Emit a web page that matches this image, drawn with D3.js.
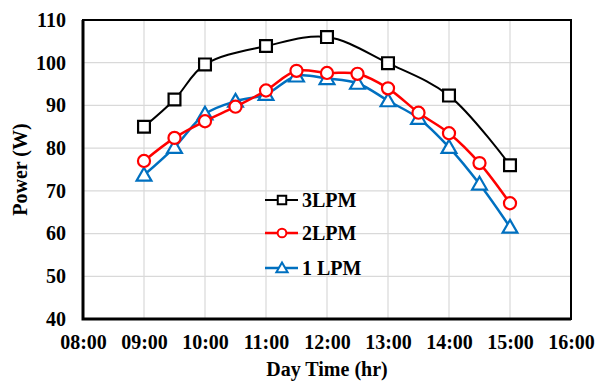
<!DOCTYPE html>
<html>
<head>
<meta charset="utf-8">
<script src="https://cdn.jsdelivr.net/npm/d3@7"></script>
<style>
  html, body { margin: 0; padding: 0; background: #fff; }
  svg { display: block; font-family: "Liberation Serif", "Times New Roman", serif; font-weight: bold; }
</style>
</head>
<body>
<svg id="chart" width="602" height="381"></svg>
<script>
// Sampling times for each flow rate
const times3 = ["09:00", "09:30", "10:00", "11:00", "12:00", "13:00", "14:00", "15:00"];
const power3 = [85, 91.4, 99.6, 103.9, 106, 99.9, 92.3, 76];

const times2 = ["09:00", "09:30", "10:00", "10:30", "11:00", "11:30", "12:00", "12:30", "13:00", "13:30", "14:00", "14:30", "15:00"];
const power2 = [77, 82.4, 86.3, 89.7, 93.5, 98.1, 97.6, 97.4, 94, 88.3, 83.5, 76.5, 67.1];

const times1 = ["09:00", "09:30", "10:00", "10:30", "11:00", "11:30", "12:00", "12:30", "13:00", "13:30", "14:00", "14:30", "15:00"];
const power1 = [73.7, 80.2, 88, 91, 92.6, 96.9, 96.3, 95.2, 91.1, 87, 80.2, 71.6, 61.5];

const seriesNames = ["3LPM", "2LPM", "1 LPM"];
const xTickLabels = ["08:00", "09:00", "10:00", "11:00", "12:00", "13:00", "14:00", "15:00", "16:00"];
const yTickValues = [40, 50, 60, 70, 80, 90, 100, 110];

const toHours = s => { const [h, m] = s.split(":").map(Number); return h + m / 60; };

const svg = d3.select("#chart");
const margin = { left: 83, top: 20, right: 31, bottom: 62 };
const W = 602, H = 381;
const FS = 20;
const x = d3.scaleLinear().domain([toHours(xTickLabels[0]), toHours(xTickLabels[xTickLabels.length - 1])])
  .range([margin.left, W - margin.right]);
const y = d3.scaleLinear().domain([40, 110]).range([H - margin.bottom, margin.top]);

// Gridlines
const grid = svg.append("g").attr("stroke", "#d9d9d9").attr("stroke-width", 1.2);
xTickLabels.map(toHours).forEach(h => {
  grid.append("line").attr("x1", x(h)).attr("x2", x(h)).attr("y1", y(40)).attr("y2", y(110));
});
yTickValues.forEach(v => {
  grid.append("line").attr("x1", x(8)).attr("x2", x(16)).attr("y1", y(v)).attr("y2", y(v));
});

// Axes (labels only; frame drawn separately)
const xAxis = d3.axisBottom(x).tickValues(xTickLabels.map(toHours))
  .tickFormat((d, i) => xTickLabels[i]).tickSize(0).tickPadding(16);
const yAxis = d3.axisLeft(y).tickValues(yTickValues).tickSize(0).tickPadding(17);

const gx = svg.append("g").attr("transform", `translate(0,${y(40)})`).call(xAxis);
const gy = svg.append("g").attr("transform", `translate(${x(8)},0)`).call(yAxis);
[gx, gy].forEach(g => {
  g.attr("font-family", null).attr("font-size", null);
  g.select(".domain").remove();
  g.selectAll("text").attr("font-family", "Liberation Serif, serif").attr("font-weight", "bold")
    .attr("font-size", FS).attr("fill", "#000");
});

// Plot frame
svg.append("rect").attr("x", x(8)).attr("y", y(110)).attr("width", x(16) - x(8)).attr("height", y(40) - y(110))
  .attr("fill", "none").attr("stroke", "#000").attr("stroke-width", 2);
svg.append("path").attr("d", `M${x(8)},${y(110)}V${y(40)}H${x(16)}`)
  .attr("fill", "none").attr("stroke", "#000").attr("stroke-width", 3);

// Series
const series = [
  { name: seriesNames[0], t: times3, v: power3, color: "#000000", lw: 2, marker: "square" },
  { name: seriesNames[1], t: times2, v: power2, color: "#ff0000", lw: 2.5, marker: "circle" },
  { name: seriesNames[2], t: times1, v: power1, color: "#0070c0", lw: 2.5, marker: "triangle" }
];

const line = d3.line().x(d => x(d[0])).y(d => y(d[1])).curve(d3.curveCatmullRom.alpha(0.5));
const symbolType = { square: d3.symbolSquare, circle: d3.symbolCircle, triangle: d3.symbolTriangle };
const plotSize = { square: 140, circle: 115, triangle: 95 };
const legendSize = { square: 72, circle: 60, triangle: 55 };

function drawMarker(g, s, cx, cy, sizes, sw) {
  const sym = d3.symbol().type(symbolType[s.marker]).size(sizes[s.marker]);
  const dy = s.marker === "triangle" ? Math.sqrt(sizes[s.marker]) * 0.13 : 0;
  g.append("path").attr("d", sym()).attr("transform", `translate(${cx},${cy + dy})`)
    .attr("fill", "#fff").attr("stroke", s.color).attr("stroke-width", sw);
}

// Draw in reverse so 3LPM sits on top
series.slice().reverse().forEach(s => {
  const pts = s.t.map((t, i) => [toHours(t), s.v[i]]);
  svg.append("path").attr("d", line(pts)).attr("fill", "none")
    .attr("stroke", s.color).attr("stroke-width", s.lw);
  const mg = svg.append("g");
  pts.forEach(p => drawMarker(mg, s, x(p[0]), y(p[1]), plotSize, 2.2));
});

// Legend
const legendY = [200, 233, 268];
series.forEach((s, i) => {
  const g = svg.append("g");
  g.append("line").attr("x1", 265).attr("x2", 298).attr("y1", legendY[i]).attr("y2", legendY[i])
    .attr("stroke", s.color).attr("stroke-width", s.lw);
  drawMarker(g, s, 282, legendY[i], legendSize, 2);
  g.append("text").attr("x", 302).attr("y", legendY[i]).attr("dy", "0.35em")
    .attr("font-size", FS).attr("fill", "#000").text(s.name);
});

// Axis titles
svg.append("text").attr("x", (x(8) + x(16)) / 2).attr("y", 376).attr("text-anchor", "middle")
  .attr("font-size", FS).text("Day Time (hr)");
svg.append("text").attr("transform", `translate(27,${(y(40) + y(110)) / 2}) rotate(-90)`)
  .attr("text-anchor", "middle").attr("font-size", FS).text("Power (W)");
</script>
</body>
</html>
